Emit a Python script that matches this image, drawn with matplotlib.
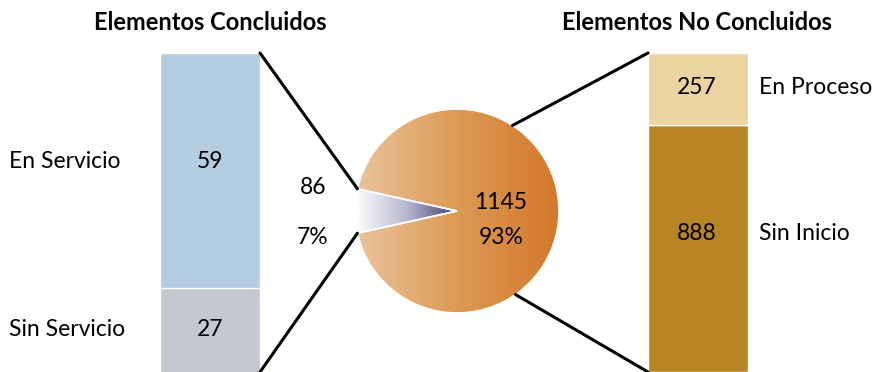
import numpy as np
import matplotlib
matplotlib.use("Agg")
import matplotlib.pyplot as plt
from matplotlib.patches import ConnectionPatch
from matplotlib.colors import LinearSegmentedColormap

plt.rcParams['font.family'] = ['Lato', 'DejaVu Sans']

# pie: concluded vs not concluded
pie_values = [86, 1145]
pie_pcts = ["7%", "93%"]

# breakdown of concluded elements
done_labels = ["En Servicio", "Sin Servicio"]
done_values = [59, 27]

# breakdown of not concluded elements
open_labels = ["En Proceso", "Sin Inicio"]
open_values = [257, 888]

W, H = 876, 372
FS = 16.5
fig = plt.figure(figsize=(W / 100, H / 100), dpi=100)


def px_box(x0, y0, x1, y1):
    # pixel box (top-left origin) -> figure fraction rect
    return [x0 / W, 1 - y1 / H, (x1 - x0) / W, (y1 - y0) / H]


# ---- pie in the middle ----
cx, cy, r = 457, 211, 102
ax_pie = fig.add_axes(px_box(cx - r, cy - r, cx + r, cy + r))
total = sum(pie_values)
half = pie_values[0] / total * 360 / 2
wedges, _ = ax_pie.pie(pie_values, startangle=180 - half, counterclock=True,
                       radius=1, colors=["none", "none"],
                       wedgeprops=dict(edgecolor="white", linewidth=1.2))
ax_pie.set_xlim(-1, 1)
ax_pie.set_ylim(-1, 1)
ax_pie.set_aspect("equal")
ax_pie.axis("off")

grad = np.linspace(0, 1, 256).reshape(1, -1)
orange = LinearSegmentedColormap.from_list("orange", ["#ebc49c", "#dc9a55", "#d3782a"])
navy = LinearSegmentedColormap.from_list("navy", ["#ffffff", "#b8b8d0", "#3e3e70"])
im = ax_pie.imshow(grad, cmap=orange, extent=(-1, 1, -1, 1), aspect="auto", zorder=1)
im.set_clip_path(wedges[1])
im2 = ax_pie.imshow(grad, cmap=navy, extent=(-1, 0, -1, 1), aspect="auto", zorder=1)
im2.set_clip_path(wedges[0])
for w in wedges:
    w.set_zorder(2)

ax_pie.text(0.43, 0.08, str(pie_values[1]), ha="center", va="center", fontsize=FS)
ax_pie.text(0.43, -0.26, pie_pcts[1], ha="center", va="center", fontsize=FS)
fig.text(313 / W, 1 - 188 / H, str(pie_values[0]), ha="center", va="center", fontsize=FS)
fig.text(313 / W, 1 - 237 / H, pie_pcts[0], ha="center", va="center", fontsize=FS)

# ---- left bar: concluded ----
ax_l = fig.add_axes(px_box(160, 53, 260, H))
split_px, top_px = 288, 53
ax_l.bar(0, done_values[1], width=1, color="#c4c8d0", edgecolor="white", linewidth=1)
ax_l.bar(0, done_values[0], width=1, bottom=done_values[1], color="#b4cce0",
         edgecolor="white", linewidth=1)
ltop = sum(done_values)
ax_l.set_ylim(ltop - done_values[0] * (H - top_px) / (split_px - top_px), ltop)
ax_l.set_xlim(-0.5, 0.5)
ax_l.axis("off")

# ---- right bar: not concluded ----
ax_r = fig.add_axes(px_box(648, 53, 748, H))
ax_r.bar(0, open_values[1], width=1, color="#b98522", edgecolor="white", linewidth=1)
ax_r.bar(0, open_values[0], width=1, bottom=open_values[1], color="#ebd3a2",
         edgecolor="white", linewidth=1)
ax_r.set_ylim(0, sum(open_values))
ax_r.set_xlim(-0.5, 0.5)
ax_r.axis("off")

# value labels and category names
done_rows = [161, 330]
open_rows = [87, 233]
for lab, val, y in zip(done_labels, done_values, done_rows):
    fig.text(210 / W, 1 - y / H, str(val), ha="center", va="center", fontsize=FS)
    fig.text(9 / W, 1 - y / H, lab, ha="left", va="center", fontsize=FS)
for lab, val, y in zip(open_labels, open_values, open_rows):
    fig.text(697 / W, 1 - y / H, str(val), ha="center", va="center", fontsize=FS)
    fig.text(759 / W, 1 - y / H, lab, ha="left", va="center", fontsize=FS)

fig.text(210 / W, 1 - 22 / H, "Elementos Concluidos", ha="center", va="center",
         fontsize=17, fontweight="bold")
fig.text(697 / W, 1 - 22 / H, "Elementos No Concluidos", ha="center", va="center",
         fontsize=17, fontweight="bold")

# connector lines from pie to the bars
def pie_point(deg):
    a = np.deg2rad(deg)
    return (np.cos(a), np.sin(a))

for deg, ax_b, corner in [(180 - half, ax_l, (1, 1)), (180 + half, ax_l, (1, 0)),
                          (57, ax_r, (0, 1)), (-55, ax_r, (0, 0))]:
    con = ConnectionPatch(xyA=pie_point(deg), coordsA=ax_pie.transData,
                          xyB=corner, coordsB=ax_b.transAxes,
                          color="black", linewidth=2.2)
    fig.add_artist(con)

fig.savefig("out.png", dpi=100)
